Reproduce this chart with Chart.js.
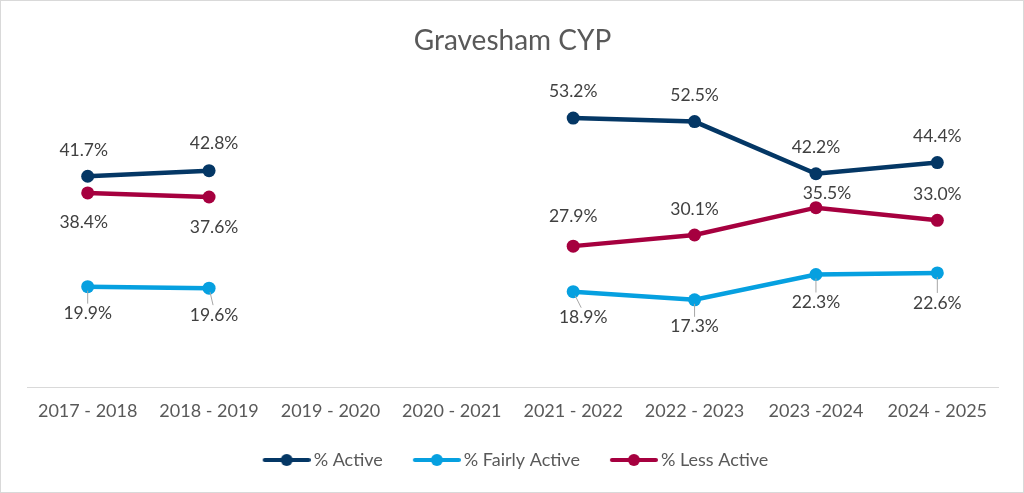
<!DOCTYPE html>
<html>
<head>
<meta charset="utf-8">
<script src="https://cdn.jsdelivr.net/npm/chart.js@4"></script>
<style>
  html, body { margin: 0; padding: 0; background: #fff; }
  #wrap { width: 1024px; height: 493px; box-sizing: border-box; border: 1px solid #d9d9d9; position: relative; }
</style>
</head>
<body>
<div id="wrap"><canvas id="c"></canvas></div>
<script>
var years = ['2017 - 2018', '2018 - 2019', '2019 - 2020', '2020 - 2021', '2021 - 2022', '2022 - 2023', '2023 -2024', '2024 - 2025'];
var active = [41.7, 42.8, null, null, 53.2, 52.5, 42.2, 44.4];
var fairlyActive = [19.9, 19.6, null, null, 18.9, 17.3, 22.3, 22.6];
var lessActive = [38.4, 37.6, null, null, 27.9, 30.1, 35.5, 33.0];

var navy = '#043765';
var sky = '#06a0e0';
var crimson = '#a6003f';

// legend marker: short line with a dot, drawn at the right of a wider canvas
// so the blank left part acts as spacing between legend items
function legendMark(colour) {
    var cv = document.createElement('canvas');
    cv.width = 60; cv.height = 14;
    var g = cv.getContext('2d');
    var x0 = 60 - 48;
    g.strokeStyle = colour;
    g.lineWidth = 4;
    g.lineCap = 'round';
    g.beginPath(); g.moveTo(x0 + 2, 7); g.lineTo(x0 + 46, 7); g.stroke();
    g.fillStyle = colour;
    g.beginPath(); g.arc(x0 + 24, 7, 6, 0, Math.PI * 2); g.fill();
    return cv;
}

// label offsets from each point, dx/dy in px (per dataset)
var labelOffsets = [
    [[-4, -26], [5, -27], null, null, [0, -27], [0, -26], [0, -26], [0, -26]],
    [[0, 27], [5, 27], null, null, [10, 26], [0, 27], [0, 28], [0, 30]],
    [[-4, 29], [5, 30], null, null, [0, -30], [0, -26], [11, -14], [0, -26]]
];

var pointLabels = {
    id: 'pointLabels',
    afterDatasetsDraw: function (chart) {
        var ctx = chart.ctx;
        ctx.save();
        ctx.font = '17.5px Lato';
        ctx.fillStyle = '#404040';
        ctx.textAlign = 'center';
        ctx.textBaseline = 'middle';
        chart.data.datasets.forEach(function (ds, i) {
            var meta = chart.getDatasetMeta(i);
            meta.data.forEach(function (pt, j) {
                var v = ds.data[j];
                if (v === null) return;
                var off = labelOffsets[i][j] || [0, -26];
                var x = pt.x + off[0], y = pt.y + off[1];
                if (i === 1) {
                    ctx.strokeStyle = '#a6a6a6';
                    ctx.lineWidth = 1;
                    ctx.beginPath();
                    ctx.moveTo(pt.x + off[0] * 0.2, pt.y + 4);
                    ctx.lineTo(pt.x + off[0] * 0.8, y - 10);
                    ctx.stroke();
                }
                ctx.fillText(v.toFixed(1) + '%', x, y);
            });
        });
        ctx.restore();
    }
};

new Chart(document.getElementById('c'), {
    type: 'line',
    data: {
        labels: years,
        datasets: [
            { label: '% Active', data: active, borderColor: navy, backgroundColor: navy },
            { label: '% Fairly Active', data: fairlyActive, borderColor: sky, backgroundColor: sky },
            { label: '% Less Active', data: lessActive, borderColor: crimson, backgroundColor: crimson }
        ]
    },
    options: {
        responsive: true,
        maintainAspectRatio: false,
        animation: false,
        spanGaps: false,
        elements: {
            line: { borderWidth: 4.5, tension: 0 },
            point: { radius: 6.5, hoverRadius: 6.5, borderWidth: 0 }
        },
        layout: { padding: { left: 26, right: 25, top: 0, bottom: 13 } },
        scales: {
            x: {
                offset: true,
                grid: { display: false },
                border: { display: true, color: '#d9d9d9', width: 1 },
                ticks: { color: '#595959', font: { family: 'Lato', size: 18 }, padding: 5, maxRotation: 0 }
            },
            y: { display: false, min: 0, max: 60 }
        },
        plugins: {
            title: {
                display: true,
                text: 'Gravesham CYP',
                color: '#595959',
                font: { family: 'Lato', size: 28, weight: 'normal' },
                padding: { top: 23, bottom: 26 }
            },
            legend: {
                position: 'bottom',
                labels: {
                    color: '#595959',
                    font: { family: 'Lato', size: 18 },
                    usePointStyle: true,
                    pointStyleWidth: 48,
                    padding: 24,
                    generateLabels: function (chart) {
                        var items = Chart.defaults.plugins.legend.labels.generateLabels(chart);
                        items.forEach(function (it) {
                            it.pointStyle = legendMark(chart.data.datasets[it.datasetIndex].borderColor);
                        });
                        return items;
                    }
                }
            },
            tooltip: { enabled: false }
        }
    },
    plugins: [pointLabels]
});
</script>
</body>
</html>
